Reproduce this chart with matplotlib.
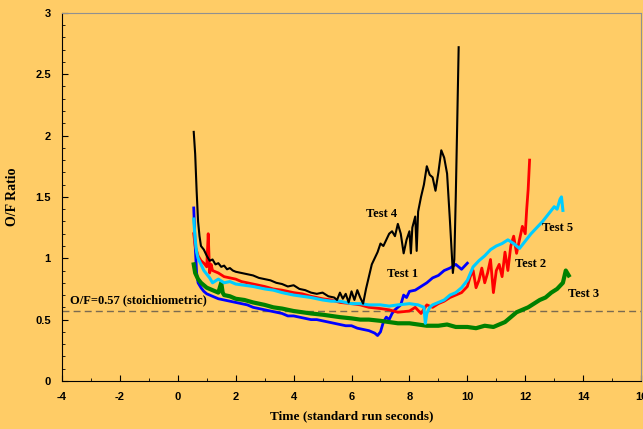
import matplotlib
matplotlib.use("Agg")
import matplotlib.pyplot as plt
from matplotlib.ticker import MultipleLocator, FormatStrFormatter

plt.rcParams["axes.unicode_minus"] = False

# Test 4 (black)
t4_x = [0.55, 0.6, 0.65, 0.7, 0.75, 0.8, 0.9, 1.0, 1.1, 1.2, 1.3, 1.4, 1.5, 1.6, 1.7, 1.8, 1.9, 2.0,
        2.2, 2.4, 2.6, 2.8, 3.0, 3.2, 3.4, 3.6, 3.8, 4.0, 4.2, 4.4, 4.6, 4.8, 5.0, 5.2, 5.4, 5.5, 5.6,
        5.7, 5.8, 5.9, 6.0, 6.1, 6.2, 6.3, 6.4, 6.5, 6.6, 6.7, 6.8, 6.9, 7.0, 7.1, 7.2, 7.3, 7.4, 7.5,
        7.6, 7.7, 7.8, 7.9, 8.0, 8.05, 8.1, 8.2, 8.25, 8.3, 8.4, 8.5, 8.6, 8.7, 8.8, 8.9, 9.0, 9.1,
        9.2, 9.3, 9.4, 9.5, 9.55, 9.6, 9.65, 9.7]
t4_y = [2.03, 1.85, 1.55, 1.3, 1.18, 1.1, 1.07, 1.02, 0.98, 0.99, 0.95, 0.96, 0.93, 0.94, 0.91, 0.92,
        0.9, 0.89, 0.88, 0.87, 0.86, 0.84, 0.83, 0.82, 0.8, 0.79, 0.77, 0.78, 0.75, 0.74, 0.72, 0.71,
        0.72, 0.69, 0.68, 0.66, 0.72, 0.67, 0.71, 0.64, 0.73, 0.66, 0.74, 0.68, 0.63, 0.75, 0.85, 0.95,
        1.0, 1.05, 1.12, 1.1, 1.15, 1.2, 1.22, 1.18, 1.28, 1.2, 1.04, 1.15, 1.22, 1.04, 1.25, 1.34,
        1.06, 1.38, 1.5, 1.6, 1.75, 1.68, 1.66, 1.55, 1.7, 1.88, 1.82, 1.69, 1.3, 0.88, 0.99, 1.5,
        2.1, 2.72]

# Test 1 (blue)
t1_x = [0.55, 0.6, 0.65, 0.7, 0.8, 0.9, 1.0, 1.2, 1.4, 1.6, 1.8, 2.0, 2.2, 2.4, 2.6, 2.8, 3.0, 3.2,
        3.4, 3.6, 3.8, 4.0, 4.2, 4.4, 4.6, 4.8, 5.0, 5.2, 5.4, 5.6, 5.8, 6.0, 6.2, 6.4, 6.6, 6.8, 6.9,
        7.0, 7.1, 7.2, 7.3, 7.4, 7.5, 7.6, 7.7, 7.8, 7.9, 8.0, 8.2, 8.4, 8.6, 8.8, 9.0, 9.2, 9.4, 9.6,
        9.8, 10.0]
t1_y = [1.41, 1.1, 0.88, 0.8, 0.76, 0.73, 0.71, 0.69, 0.67, 0.66, 0.65, 0.64, 0.63, 0.62, 0.6, 0.59,
        0.58, 0.57, 0.56, 0.55, 0.53, 0.53, 0.52, 0.51, 0.5, 0.5, 0.49, 0.48, 0.47, 0.46, 0.45, 0.45,
        0.43, 0.42, 0.41, 0.39, 0.37, 0.4, 0.48, 0.52, 0.5, 0.55, 0.58, 0.6, 0.62, 0.7, 0.68, 0.73,
        0.74, 0.77, 0.8, 0.84, 0.86, 0.9, 0.92, 0.95, 0.91, 0.96]

# Test 2 (red)
t2_x = [0.55, 0.6, 0.7, 0.8, 0.9, 1.0, 1.05, 1.1, 1.15, 1.2, 1.4, 1.6, 1.8, 2.0, 2.2, 2.4, 2.6, 2.8,
        3.0, 3.3, 3.6, 4.0, 4.3, 4.6, 5.0, 5.3, 5.6, 6.0, 6.3, 6.6, 7.0, 7.3, 7.6, 8.0, 8.2, 8.4, 8.6,
        8.8, 9.0, 9.2, 9.4, 9.6, 9.8, 10.0, 10.1, 10.2, 10.3, 10.4, 10.5, 10.6, 10.7, 10.8, 10.9,
        11.0, 11.1, 11.2, 11.3, 11.4, 11.5, 11.6, 11.7, 11.8, 11.9, 12.0, 12.05, 12.1, 12.15]
t2_y = [1.2, 1.1, 1.02, 0.98, 0.96, 0.93, 1.2, 0.88, 0.95, 0.9, 0.88, 0.85, 0.84, 0.83, 0.81, 0.8,
        0.79, 0.78, 0.77, 0.75, 0.74, 0.72, 0.71, 0.69, 0.67, 0.66, 0.64, 0.63, 0.62, 0.6, 0.59, 0.58,
        0.56, 0.57, 0.6, 0.55, 0.62, 0.6, 0.63, 0.65, 0.68, 0.7, 0.72, 0.77, 0.85, 0.9, 0.76, 0.82,
        0.92, 0.8, 0.88, 0.99, 0.72, 0.9, 0.95, 0.85, 1.05, 0.9, 1.1, 1.18, 1.04, 1.15, 1.26, 1.2,
        1.4, 1.56, 1.8]

# Test 3 (green)
t3_x = [0.55, 0.6, 0.7, 0.8, 0.9, 1.0, 1.2, 1.4, 1.5, 1.55, 1.6, 1.8, 2.0, 2.3, 2.6, 3.0, 3.3, 3.6,
        4.0, 4.3, 4.6, 5.0, 5.3, 5.6, 6.0, 6.3, 6.6, 7.0, 7.3, 7.6, 8.0, 8.3, 8.6, 9.0, 9.3, 9.6, 10.0,
        10.3, 10.6, 10.9, 11.1, 11.3, 11.5, 11.7, 11.9, 12.1, 12.3, 12.5, 12.7, 12.9, 13.1, 13.3,
        13.4, 13.5]
t3_y = [0.95, 0.88, 0.83, 0.8, 0.78, 0.76, 0.74, 0.72, 0.8, 0.72, 0.7, 0.69, 0.67, 0.66, 0.64, 0.62,
        0.6, 0.59, 0.57, 0.56, 0.55, 0.54, 0.53, 0.52, 0.51, 0.5, 0.5, 0.49, 0.48, 0.47, 0.47, 0.46,
        0.45, 0.45, 0.46, 0.44, 0.44, 0.43, 0.45, 0.44, 0.46, 0.48, 0.52, 0.56, 0.58, 0.6, 0.63,
        0.66, 0.68, 0.72, 0.75, 0.8, 0.9, 0.86]

# Test 5 (cyan)
t5_x = [0.55, 0.6, 0.65, 0.7, 0.8, 0.9, 1.0, 1.1, 1.2, 1.4, 1.6, 1.8, 2.0, 2.3, 2.6, 3.0, 3.3, 3.6,
        4.0, 4.3, 4.6, 5.0, 5.3, 5.6, 6.0, 6.3, 6.6, 7.0, 7.3, 7.6, 8.0, 8.3, 8.5, 8.55, 8.6, 8.7,
        8.8, 9.0, 9.2, 9.4, 9.6, 9.8, 10.0, 10.2, 10.4, 10.6, 10.8, 11.0, 11.2, 11.4, 11.6, 11.8,
        12.0, 12.2, 12.4, 12.6, 12.8, 13.0, 13.1, 13.2, 13.25, 13.3]
t5_y = [1.32, 1.15, 1.05, 1.0, 0.95, 0.9, 0.87, 0.84, 0.8, 0.83, 0.8, 0.81, 0.79, 0.78, 0.77, 0.75,
        0.74, 0.72, 0.7, 0.69, 0.68, 0.66, 0.65, 0.65, 0.63, 0.63, 0.62, 0.62, 0.61, 0.62, 0.63, 0.62,
        0.6, 0.47, 0.55, 0.6, 0.62, 0.64, 0.66, 0.7, 0.72, 0.76, 0.82, 0.93, 0.98, 1.02, 1.07, 1.1,
        1.12, 1.15, 1.12, 1.08, 1.14, 1.2, 1.25, 1.3, 1.36, 1.42, 1.4, 1.48, 1.5, 1.39]

stoich = 0.57
bg = "#FFCC66"

fig = plt.figure(figsize=(6.43, 4.29), dpi=100, facecolor=bg)
ax = fig.add_axes([0.0964, 0.112, 0.9006, 0.858])
ax.set_facecolor(bg)

ax.axhline(stoich, color="#7a6a50", lw=1, ls=(0, (5, 3)))
ax.plot(t1_x, t1_y, color="#0000FF", lw=2)
ax.plot(t3_x, t3_y, color="#008000", lw=3)
ax.plot(t2_x, t2_y, color="#FF0000", lw=2)
ax.plot(t5_x, t5_y, color="#00CCFF", lw=2.2)
ax.plot(t4_x, t4_y, color="black", lw=1.5)

tfont = dict(family="Liberation Serif", fontweight="bold", fontsize=9)
ax.text(7.05, 1.36, "Test 4", ha="center", va="center", **tfont)
ax.text(7.77, 0.87, "Test 1", ha="center", va="center", **tfont)
ax.text(13.1, 1.25, "Test 5", ha="center", va="center", **tfont)
ax.text(12.2, 0.95, "Test 2", ha="center", va="center", **tfont)
ax.text(14.0, 0.71, "Test 3", ha="center", va="center", **tfont)
ax.text(-3.72, 0.61, "O/F=0.57 (stoichiometric)", ha="left", va="bottom", **tfont)

ax.set_xlim(-4, 16)
ax.set_ylim(0, 3)
ax.xaxis.set_major_locator(MultipleLocator(2))
ax.xaxis.set_minor_locator(MultipleLocator(1))
ax.yaxis.set_major_locator(MultipleLocator(0.5))
ax.yaxis.set_minor_locator(MultipleLocator(0.1))
ax.xaxis.set_major_formatter(FormatStrFormatter("%g"))
ax.yaxis.set_major_formatter(FormatStrFormatter("%g"))
ax.tick_params(which="both", direction="in", labelsize=8, pad=8)
ax.tick_params(which="major", length=4)
ax.tick_params(which="minor", length=2.5)
for lab in ax.get_xticklabels() + ax.get_yticklabels():
    lab.set_fontweight("bold")
    lab.set_family("Liberation Sans")

ax.spines["top"].set_color("#909090")
ax.spines["right"].set_color("#909090")

ax.set_xlabel("Time (standard run seconds)", labelpad=6, family="Liberation Serif",
              fontweight="bold", fontsize=9.5)
ax.set_ylabel("O/F Ratio", labelpad=12, family="Liberation Serif",
              fontweight="bold", fontsize=10)

fig.savefig("out.png", dpi=100, facecolor=bg)
